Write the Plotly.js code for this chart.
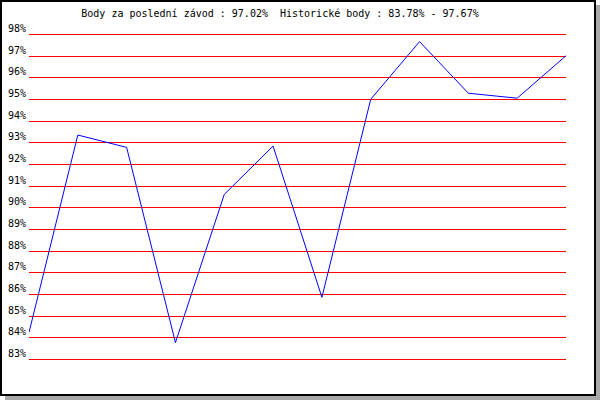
<!DOCTYPE html>
<html>
<head>
<meta charset="utf-8">
<script src="https://cdn.plot.ly/plotly-3.0.1.min.js"></script>
<style>
html,body{margin:0;padding:0;background:#fff;}
#chart{width:600px;height:400px;}
</style>
</head>
<body>
<div id="chart"></div>
<script>
// Data
const races = [1, 2, 3, 4, 5, 6, 7, 8, 9, 10, 11, 12];
const points = [84.25, 93.36, 92.79, 83.78, 90.62, 92.85, 85.87, 95.01, 97.67, 95.29, 95.06, 97.02];
const yTicks = [83, 84, 85, 86, 87, 88, 89, 90, 91, 92, 93, 94, 95, 96, 97, 98];
const titleText = 'Body za poslední závod : 97.02%  Historické body : 83.78% - 97.67%';

const W = 600, H = 400;
const mL = 29, mR = 34, mT = 30, mB = 36;
const pw = W - mL - mR, ph = H - mT - mB;
// pixel -> paper coordinate helpers
const px = v => (v - mL) / pw;
const py = v => (H - mB - v) / ph;

const font = 'DejaVu Sans Mono, Liberation Mono, monospace';

const trace = {
  x: races,
  y: points,
  type: 'scatter',
  mode: 'lines',
  line: {color: '#0000ff', width: 1},
  cliponaxis: false,
  hoverinfo: 'none'
};

const pad = 4.5 / 21.667;
const layout = {
  width: W, height: H,
  margin: {l: mL, r: mR, t: mT, b: mB, pad: 0},
  paper_bgcolor: '#ffffff',
  plot_bgcolor: 'rgba(0,0,0,0)',
  showlegend: false,
  font: {family: font, size: 10, color: '#000'},
  title: {
    text: titleText,
    font: {family: font, size: 10, color: '#000'},
    xref: 'container', yref: 'container',
    x: 280 / W, xanchor: 'center',
    y: 1 - 13 / H, yanchor: 'middle'
  },
  xaxis: {
    range: [races[0], races[races.length - 1]],
    showgrid: false, zeroline: false, showline: false,
    showticklabels: false, ticks: '', fixedrange: true
  },
  yaxis: {
    range: [yTicks[0] - pad, yTicks[yTicks.length - 1] + pad],
    tickmode: 'array',
    tickvals: yTicks,
    ticktext: yTicks.map(v => v + '%'),
    showgrid: true, gridcolor: '#ff0000', gridwidth: 1,
    zeroline: false, showline: false, ticks: '',
    ticklabelshift: -6,
    ticklabelstandoff: 2,
    tickfont: {family: font, size: 10, color: '#000'},
    fixedrange: true
  },
  shapes: [
    {type: 'rect', xref: 'paper', yref: 'paper', layer: 'below',
     x0: px(5), x1: px(600), y0: py(400), y1: py(5),
     fillcolor: '#a9a9a9', line: {width: 0}},
    {type: 'rect', xref: 'paper', yref: 'paper', layer: 'below',
     x0: px(1), x1: px(595), y0: py(395), y1: py(1),
     fillcolor: '#ffffff', line: {color: '#000000', width: 2}}
  ]
};

Plotly.newPlot('chart', [trace], layout, {staticPlot: true, displayModeBar: false});
</script>
</body>
</html>
